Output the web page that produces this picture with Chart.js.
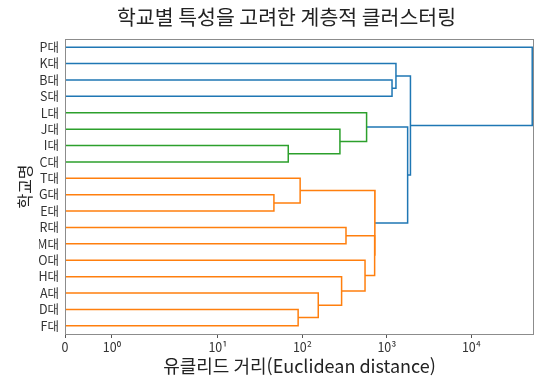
<!DOCTYPE html>
<html lang="ko">
<head>
<meta charset="utf-8">
<title>학교별 특성을 고려한 계층적 클러스터링</title>
<script src="https://cdn.jsdelivr.net/npm/chart.js@4.4.1/dist/chart.umd.min.js"></script>
<style>
    html, body { margin: 0; padding: 0; background: #fff; }
    #chartBox { width: 536px; height: 378px; }
</style>
</head>
<body>
<div id="chartBox"><canvas id="dendro"></canvas></div>
<script>
// Leaves, top to bottom
const leaves = ['P대', 'K대', 'B대', 'S대', 'L대', 'J대', 'I대', 'C대', 'T대',
    'G대', 'E대', 'R대', 'M대', 'O대', 'H대', 'A대', 'D대', 'F대'];

// Linkage (scipy style): merge k joins mergeA[k] and mergeB[k] into cluster leaves.length + k
const mergeA = [9, 6, 16, 8, 15, 5, 14, 11, 13, 4, 25, 21, 2, 1, 27, 31, 0];
const mergeB = [10, 7, 17, 18, 20, 19, 22, 12, 24, 23, 26, 28, 3, 30, 29, 32, 33];
const mergeDist = [46, 68, 89, 94, 154, 278, 291, 328, 551, 575, 716, 723, 1150, 1280, 1760, 1900, 52500];

const xTickValues = [0, 1, 10, 100, 1000, 10000];
const xTickLabels = ['0', '10⁰', '10¹', '10²', '10³', '10⁴'];

const colorThreshold = 1000;
const aboveColor = '#1f77b4';
const palette = ['#ff7f0e', '#2ca02c', '#d62728', '#9467bd'];
const fontFamily = "'Noto Sans CJK KR', 'Noto Sans', sans-serif";

// symlog transform (base 10, linthresh 2, linscale 1), same as matplotlib
const linthresh = 2;
const linscaleAdj = 1 / (1 - 1 / 10);
function symlog(v) {
    const a = Math.abs(v);
    if (a <= linthresh) return v * linscaleAdj;
    return Math.sign(v) * linthresh * (linscaleAdj + Math.log10(a / linthresh));
}
function symexp(t) {
    const a = Math.abs(t);
    if (a <= linthresh * linscaleAdj) return t / linscaleAdj;
    return Math.sign(t) * linthresh * Math.pow(10, a / linthresh - linscaleAdj);
}

class SymlogScale extends Chart.Scale {
    static id = 'symlog';
    static defaults = {};

    determineDataLimits() {
        const { min, max } = this.getMinMax(true);
        this.min = this.options.min ?? min;
        this.max = this.options.max ?? max;
    }
    buildTicks() {
        return xTickValues.map(value => ({ value }));
    }
    configure() {
        super.configure();
        this._tStart = symlog(this.min);
        this._tRange = symlog(this.max) - this._tStart;
    }
    getLabelForValue(value) {
        return String(value);
    }
    getPixelForValue(value) {
        return this.getPixelForDecimal((symlog(value) - this._tStart) / this._tRange);
    }
    getValueForPixel(pixel) {
        return symexp(this._tStart + this.getDecimalForPixel(pixel) * this._tRange);
    }
}
Chart.register(SymlogScale);

// node positions: leaves at 5, 15, 25 ... ; clusters at the mean of their children
const n = leaves.length;
const nodeX = leaves.map(() => 0);
const nodeY = leaves.map((_, i) => 5 + 10 * i);
const nodeLeaves = leaves.map((_, i) => [i]);
const parent = [];
mergeDist.forEach((d, k) => {
    const a = mergeA[k], b = mergeB[k];
    nodeX.push(d);
    nodeY.push((nodeY[a] + nodeY[b]) / 2);
    nodeLeaves.push(nodeLeaves[a].concat(nodeLeaves[b]));
    parent[a] = n + k;
    parent[b] = n + k;
});

// colour clusters below the threshold, bottom cluster first (like scipy)
const roots = [];
mergeDist.forEach((d, k) => {
    const p = parent[n + k];
    if (d < colorThreshold && (p === undefined || mergeDist[p - n] >= colorThreshold)) {
        roots.push(n + k);
    }
});
roots.sort((r1, r2) => Math.max(...nodeLeaves[r2]) - Math.max(...nodeLeaves[r1]));
const linkColor = mergeDist.map((d, k) => {
    if (d >= colorThreshold) return aboveColor;
    const leaf = nodeLeaves[n + k][0];
    const r = roots.findIndex(id => nodeLeaves[id].includes(leaf));
    return palette[r % palette.length];
});

const datasets = mergeDist.map((d, k) => {
    const a = mergeA[k], b = mergeB[k];
    return {
        data: [
            { x: nodeX[a], y: nodeY[a] },
            { x: d, y: nodeY[a] },
            { x: d, y: nodeY[b] },
            { x: nodeX[b], y: nodeY[b] }
        ],
        showLine: true,
        borderColor: linkColor[k],
        borderWidth: 1.5,
        pointRadius: 0,
        fill: false,
        tension: 0
    };
});

const framePlugin = {
    id: 'frame',
    afterDraw(chart) {
        const { ctx, chartArea } = chart;
        ctx.save();
        ctx.strokeStyle = '#8c8c8c';
        ctx.lineWidth = 1;
        ctx.strokeRect(chartArea.left + 0.5, chartArea.top + 0.5,
            chartArea.right - chartArea.left - 1, chartArea.bottom - chartArea.top);
        ctx.restore();
    }
};

const ctx = document.getElementById('dendro').getContext('2d');
const myChart = new Chart(ctx, {
    type: 'scatter',
    data: { datasets },
    options: {
        responsive: true,
        maintainAspectRatio: false,
        animation: false,
        layout: { padding: { left: 39, right: 2, top: 0, bottom: 0 } },
        plugins: {
            legend: { display: false },
            tooltip: { enabled: false },
            title: {
                display: true,
                text: '학교별 특성을 고려한 계층적 클러스터링',
                color: '#222',
                font: { family: fontFamily, size: 20.5, weight: 'normal' },
                padding: { top: 5, bottom: 9.4 }
            }
        },
        scales: {
            x: {
                type: 'symlog',
                min: 0,
                max: 55100,
                grid: { drawOnChartArea: false, drawTicks: true, tickLength: 4, color: '#555' },
                border: { display: false },
                ticks: {
                    autoSkip: false,
                    maxRotation: 0,
                    padding: 2,
                    color: '#333',
                    font: { family: fontFamily, size: 12.5 },
                    callback: (v, i) => xTickLabels[i]
                },
                title: {
                    display: true,
                    text: '유클리드 거리(Euclidean distance)',
                    color: '#222',
                    font: { family: fontFamily, size: 18 },
                    padding: { top: 0, bottom: 1 }
                },
                afterFit: axis => { axis.height = 44; }
            },
            y: {
                type: 'linear',
                min: 0,
                max: leaves.length * 10,
                reverse: true,
                grid: { display: false, drawTicks: false, tickLength: 0 },
                border: { display: false },
                afterBuildTicks: axis => {
                    axis.ticks = leaves.map((_, i) => ({ value: 5 + 10 * i }));
                },
                ticks: {
                    autoSkip: false,
                    padding: 6,
                    color: '#333',
                    font: { family: fontFamily, size: 12.5 },
                    callback: v => leaves[Math.round((v - 5) / 10)]
                },
                title: {
                    display: true,
                    text: '학교명',
                    color: '#222',
                    font: { family: fontFamily, size: 16 },
                    padding: { top: -24, bottom: 0 }
                },
                afterFit: axis => { axis.width = 26; }
            }
        }
    },
    plugins: [framePlugin]
});
</script>
</body>
</html>
